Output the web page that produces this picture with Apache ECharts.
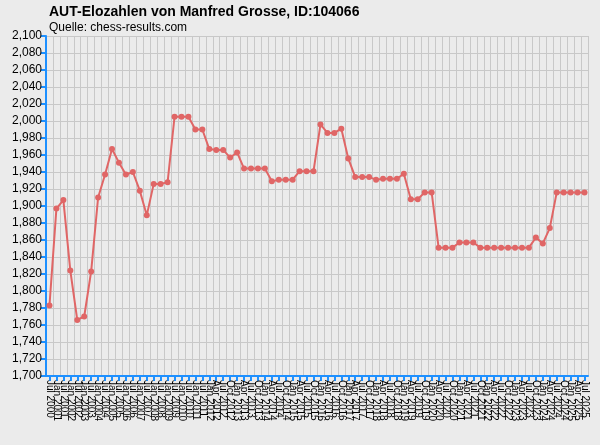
<!DOCTYPE html>
<html><head><meta charset="utf-8">
<script src="https://cdn.jsdelivr.net/npm/echarts@6/dist/echarts.min.js"></script>
<style>html,body{margin:0;padding:0;background:#ebebeb}#c{width:600px;height:445px}</style>
</head><body><div id="c"></div>
<script>
const labels = [];
for (let y = 2000; y <= 2011; y++) { labels.push('Jul ' + y); labels.push('Jan ' + (y + 1)); }
for (let y = 2012; y <= 2025; y++) { for (const m of ['Apr','Jul','Oct','Jan']) labels.push(m + ' ' + (m === 'Jan' ? y + 1 : y)); }
const categories = labels.slice(0, 78);
const elo = [1783,1897,1907,1824,1766,1770,1823,1910,1937,1967,1951,1937,1940,1918,1889,1926,1926,1928,2005,2005,2005,1990,1990,1967,1966,1966,1957,1963,1944,1944,1944,1944,1929,1931,1931,1931,1941,1941,1941,1996,1986,1986,1991,1956,1934,1934,1934,1931,1932,1932,1932,1938,1908,1908,1916,1916,1851,1851,1851,1857,1857,1857,1851,1851,1851,1851,1851,1851,1851,1851,1863,1856,1874,1916,1916,1916,1916,1916];
const chart = echarts.init(document.getElementById('c'));
chart.setOption({
  backgroundColor: '#ebebeb',
  animation: false,
  title: {
    text: 'AUT-Elozahlen von Manfred Grosse, ID:104066',
    subtext: 'Quelle: chess-results.com',
    left: 44, top: 0, itemGap: 3,
    textStyle: {fontFamily: 'Liberation Sans', fontSize: 14, fontWeight: 'bold', color: '#000'},
    subtextStyle: {fontFamily: 'Liberation Sans', fontSize: 12, color: '#000'}
  },
  grid: {left: 46, right: 12, top: 36, bottom: 69},
  xAxis: {
    type: 'category', data: categories, boundaryGap: [0.5, 0.5],
    axisLine: {lineStyle: {color: '#1e90ff', width: 2}},
    axisTick: {show: true, interval: 0, alignWithLabel: true, length: 5, lineStyle: {color: '#1e90ff', width: 2}},
    axisLabel: {interval: 0, rotate: -90, fontSize: 10, color: '#000', fontFamily: 'Liberation Sans', margin: 4},
    splitLine: {show: true, interval: 0, lineStyle: {color: '#c8c8c8'}}
  },
  yAxis: {
    type: 'value', min: 1700, max: 2100, interval: 20,
    axisLine: {show: true, lineStyle: {color: '#1e90ff', width: 2}},
    axisTick: {show: true, length: 5, lineStyle: {color: '#1e90ff', width: 2}},
    axisLabel: {fontSize: 12, color: '#000', fontFamily: 'Liberation Sans', margin: 4},
    splitLine: {lineStyle: {color: '#c8c8c8'}}
  },
  series: [{
    type: 'line', data: elo, symbol: 'circle', symbolSize: 6,
    lineStyle: {color: '#e06666', width: 2},
    itemStyle: {color: '#e06666'}
  }]
});
</script></body></html>
